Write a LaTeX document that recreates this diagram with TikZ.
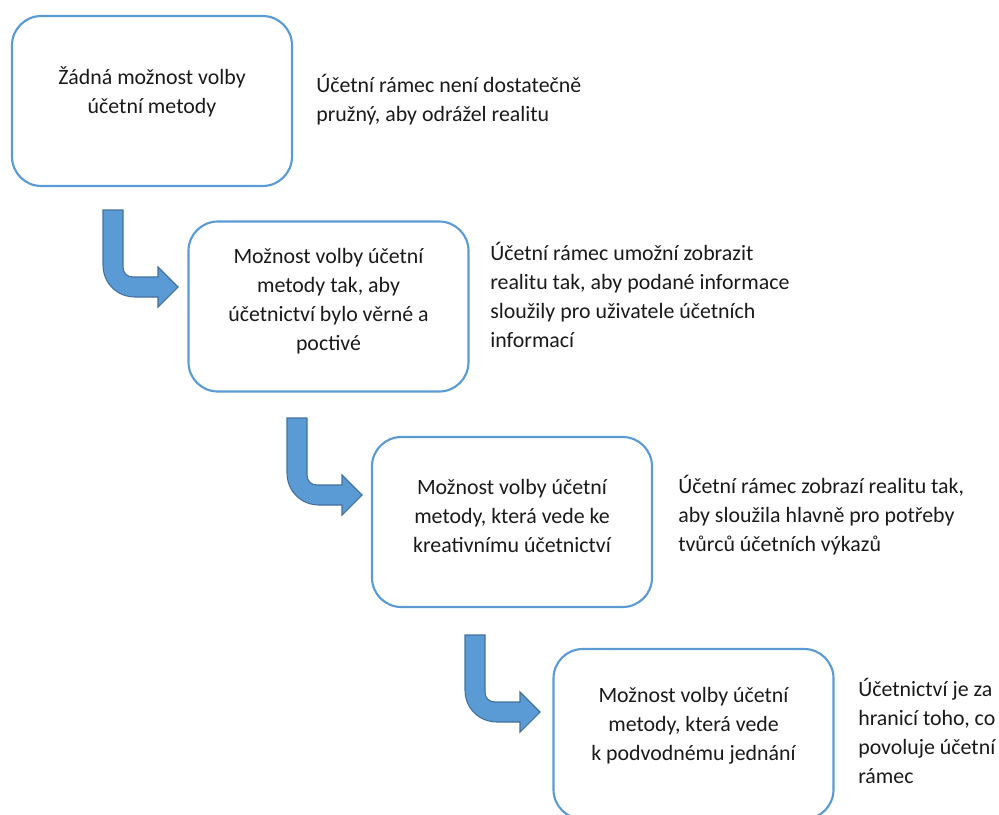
\documentclass[tikz,border=0pt]{standalone}
\usepackage{fontspec}
\setmainfont{Carlito}
\definecolor{boxblue}{HTML}{5B9BD5}
\definecolor{arrowedge}{HTML}{41719C}
\definecolor{txt}{HTML}{1A1A1A}
\tikzset{
  stagebox/.style={draw=boxblue, line width=1.6pt, rounded corners=22pt,
    minimum width=210pt, minimum height=127.5pt, inner sep=0pt},
  boxtext/.style={align=center, inner sep=0pt, text=txt,
    font=\fontsize{16.4pt}{21.75pt}\selectfont},
  sidetext/.style={align=left, inner sep=0pt, anchor=west, text=txt,
    font=\fontsize{16.4pt}{21.75pt}\selectfont},
  bentarrow/.style={fill=boxblue, draw=arrowedge, line width=0.8pt, line join=miter}
}
\newcommand{\bentarrowpath}{%
  (0,0) -- (20,0) -- (20,57) .. controls (20,63) and (24,67) .. (30,67)
  -- (55,67) -- (55,57) -- (75,77) -- (55,97) -- (55,87) -- (32,87)
  .. controls (14,87) and (0,73) .. (0,55) -- cycle}
\begin{document}
\begin{tikzpicture}[x=0.75pt,y=-0.75pt]
\useasboundingbox (0,0) rectangle (999,814);
\clip (0,0) rectangle (999,814);

\node[stagebox] (b1) at (152,101) {};
\node[stagebox] (b2) at (328.5,306.5) {};
\node[stagebox] (b3) at (512,522) {};
\node[stagebox] (b4) at (693.5,734) {};

\node[boxtext] (t1) at (152,92) {Žádná možnost volby\\účetní metody};
\node[boxtext] (t2) at (328.5,301) {Možnost volby účetní\\metody tak, aby\\účetnictví bylo věrné a\\poctivé};
\node[boxtext] (t3) at (512,516) {Možnost volby účetní\\metody, která vede ke\\kreativnímu účetnictví};
\node[boxtext] (t4) at (693.5,726) {Možnost volby účetní\\metody, která vede\\k podvodnému jednání};

\node[sidetext] (s1) at (316,100) {Účetní rámec není dostatečně\\pružný, aby odrážel realitu};
\node[sidetext] (s2) at (490,295) {Účetní rámec umožní zobrazit\\realitu tak, aby podané informace\\sloužily pro uživatele účetních\\informací};
\node[sidetext] (s3) at (678,515) {Účetní rámec zobrazí realitu tak,\\aby sloužila hlavně pro potřeby\\tvůrců účetních výkazů};
\node[sidetext] (s4) at (858,731) {Účetnictví je za\\hranicí toho, co\\povoluje účetní\\rámec};

\begin{scope}[shift={(103,210)}]
  \draw[bentarrow] \bentarrowpath;
\end{scope}
\begin{scope}[shift={(287,418)}]
  \draw[bentarrow] \bentarrowpath;
\end{scope}
\begin{scope}[shift={(465,635)}]
  \draw[bentarrow] \bentarrowpath;
\end{scope}
\end{tikzpicture}
\end{document}
